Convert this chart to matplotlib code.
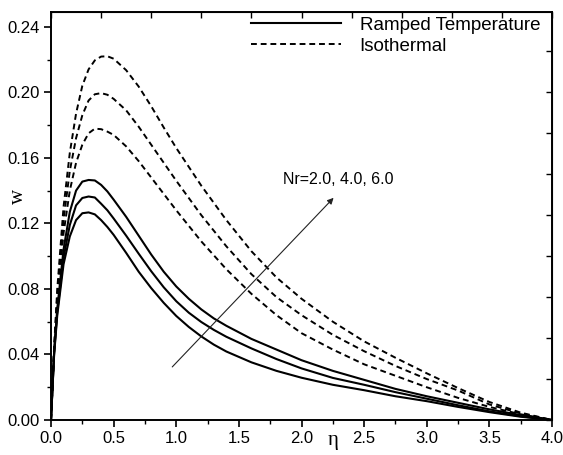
import matplotlib
matplotlib.use('Agg')
from matplotlib import pyplot as plt
from matplotlib.ticker import MultipleLocator

plt.rcParams['font.family'] = ['Liberation Sans', 'DejaVu Sans']

# eta grid and velocity profiles
eta = [0, 0.025, 0.05, 0.1, 0.15, 0.2, 0.25, 0.3, 0.35, 0.4, 0.45, 0.5,
       0.6, 0.7, 0.8, 0.9, 1.0, 1.1, 1.2, 1.3, 1.4, 1.6, 1.8, 2.0,
       2.25, 2.5, 2.75, 3.0, 3.25, 3.5, 3.75, 4.0]

# ramped temperature, Nr = 2.0, 4.0, 6.0
ramped_nr2 = [0, 0.040, 0.064, 0.095, 0.112, 0.122, 0.1262, 0.1267, 0.1255, 0.122,
              0.1178, 0.113, 0.102, 0.0905, 0.0805, 0.0715, 0.0635, 0.0568, 0.051,
              0.046, 0.0418, 0.0352, 0.0300, 0.0258, 0.0215, 0.0182, 0.0145,
              0.0115, 0.008, 0.0048, 0.002, 0]
ramped_nr4 = [0, 0.041, 0.066, 0.099, 0.119, 0.131, 0.1355, 0.1364, 0.1358, 0.132,
              0.128, 0.123, 0.1125, 0.1015, 0.0908, 0.081, 0.0725, 0.0655, 0.0598,
              0.055, 0.0508, 0.0437, 0.0372, 0.0315, 0.0257, 0.0215, 0.017, 0.013,
              0.009, 0.0053, 0.0023, 0]
ramped_nr6 = [0, 0.042, 0.068, 0.104, 0.127, 0.140, 0.1455, 0.1465, 0.1462, 0.1435,
              0.1395, 0.1345, 0.124, 0.1125, 0.101, 0.0905, 0.0815, 0.074, 0.0675,
              0.062, 0.0575, 0.0495, 0.043, 0.0365, 0.030, 0.0245, 0.019, 0.0145,
              0.0105, 0.0065, 0.003, 0]

# isothermal, Nr = 2.0, 4.0, 6.0
iso_nr2 = [0, 0.042, 0.072, 0.114, 0.14, 0.157, 0.168, 0.175, 0.1778, 0.1775,
           0.176, 0.174, 0.167, 0.158, 0.148, 0.138, 0.128, 0.1185, 0.109,
           0.1005, 0.092, 0.077, 0.064, 0.053, 0.043, 0.034, 0.027, 0.020,
           0.0135, 0.008, 0.0035, 0]
iso_nr4 = [0, 0.043, 0.076, 0.122, 0.152, 0.172, 0.186, 0.195, 0.1988, 0.1995,
           0.1985, 0.196, 0.189, 0.179, 0.168, 0.157, 0.146, 0.1355, 0.125,
           0.1155, 0.106, 0.089, 0.075, 0.064, 0.052, 0.042, 0.033, 0.025,
           0.018, 0.0095, 0.004, 0]
iso_nr6 = [0, 0.045, 0.08, 0.13, 0.163, 0.187, 0.204, 0.214, 0.2195, 0.2218,
           0.222, 0.2205, 0.2135, 0.2035, 0.1915, 0.1785, 0.166, 0.1545, 0.143,
           0.1325, 0.122, 0.103, 0.087, 0.074, 0.060, 0.048, 0.038, 0.0285,
           0.0195, 0.011, 0.0045, 0]

fig = plt.figure(figsize=(5.63, 4.55), dpi=100)
ax = fig.add_axes([0.0906, 0.0769, 0.8899, 0.8967])

dash = (0, (3, 2))
ax.plot(eta, ramped_nr2, color='black', lw=1.5, label='Ramped Temperature')
ax.plot(eta, ramped_nr4, color='black', lw=1.5)
ax.plot(eta, ramped_nr6, color='black', lw=1.5)
ax.plot(eta, iso_nr2, color='black', lw=1.4, ls=dash, label='Isothermal')
ax.plot(eta, iso_nr4, color='black', lw=1.4, ls=dash)
ax.plot(eta, iso_nr6, color='black', lw=1.4, ls=dash)

ax.set_xlim(0, 4.0)
ax.set_ylim(0, 0.249)

ax.xaxis.set_major_locator(MultipleLocator(0.5))
ax.xaxis.set_minor_locator(MultipleLocator(0.25))
ax.yaxis.set_major_locator(MultipleLocator(0.04))
ax.yaxis.set_minor_locator(MultipleLocator(0.02))
ax.xaxis.set_major_formatter(plt.FormatStrFormatter('%.1f'))
ax.yaxis.set_major_formatter(plt.FormatStrFormatter('%.2f'))
ax.tick_params(which='major', direction='out', length=5, width=1.2, labelsize=12, pad=3)
ax.tick_params(which='minor', direction='out', length=3, width=1.0)
for s in ax.spines.values():
    s.set_linewidth(1.4)

# mirrored axes with their own spacing, ticks pointing in
top = ax.secondary_xaxis('top')
top.xaxis.set_major_locator(MultipleLocator(0.4))
top.tick_params(direction='in', length=4, width=1.0, labeltop=False)
right = ax.secondary_yaxis('right')
right.yaxis.set_major_locator(MultipleLocator(0.025))
right.tick_params(direction='in', length=4, width=1.0, labelright=False)

ax.text(2.256, -0.049, 'η', transform=ax.get_xaxis_transform(),
        ha='center', va='center', fontsize=15, family='Liberation Serif')
ax.text(-0.064, 0.547, 'w', transform=ax.transAxes, rotation=90,
        ha='center', va='center', fontsize=15, family='Liberation Serif')

ax.annotate('', xy=(2.256, 0.1356), xytext=(0.968, 0.0324),
            arrowprops=dict(arrowstyle='-|>', lw=0.8, color='#222222',
                            mutation_scale=9, shrinkA=0, shrinkB=0))
ax.text(1.85, 0.1466, 'Nr=2.0, 4.0, 6.0', fontsize=11.5, ha='left', va='center')

ax.legend(loc='upper left', bbox_to_anchor=(0.395, 0.993), frameon=False,
          fontsize=13.5, handlelength=4.8, handletextpad=1.0, borderaxespad=0,
          borderpad=0.1, labelspacing=0.2)

fig.savefig('out.png', dpi=100)
